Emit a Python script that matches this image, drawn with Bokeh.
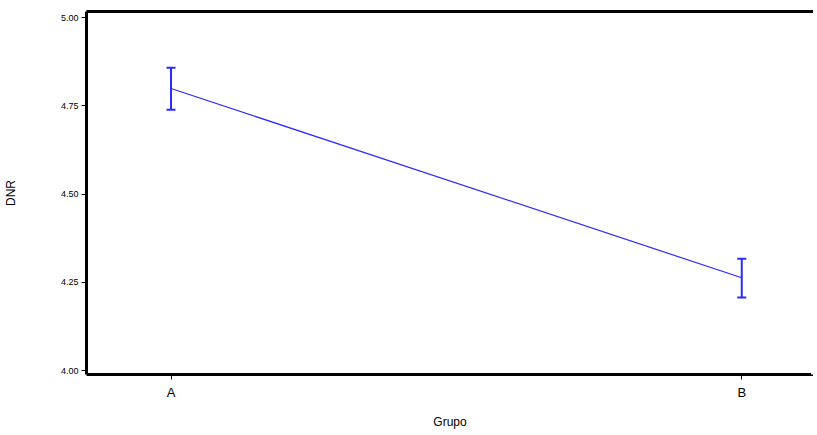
from bokeh.plotting import figure
from bokeh.models import ColumnDataSource, Whisker, FixedTicker, Range1d, TeeHead, NumeralTickFormatter
from bokeh.embed import file_html
from bokeh.resources import INLINE

groups = ["A", "B"]
means = [4.799, 4.263]
upper = [4.858, 4.317]
lower = [4.739, 4.207]
yticks = [4.00, 4.25, 4.50, 4.75, 5.00]

xpos = list(range(len(groups)))
src = ColumnDataSource(dict(x=xpos, m=means, u=upper, l=lower))

X0, X1 = -0.1481, 1.1257
Y0, Y1 = 3.989, 5.017
p = figure(width=813, height=435, output_backend="svg", toolbar_location=None,
           x_range=Range1d(X0, X1), y_range=Range1d(Y0, Y1),
           min_border_left=82, min_border_right=0, min_border_top=11, min_border_bottom=61)
p.outline_line_color = None
p.grid.visible = False
p.background_fill_color = "white"
p.border_fill_color = "white"

p.line("x", "m", source=src, line_color="#2b2bff", line_width=1.2)
w = Whisker(base="x", upper="u", lower="l", source=src, line_color="#2b2bff", line_width=2,
            upper_head=TeeHead(size=9, line_color="#2b2bff", line_width=2),
            lower_head=TeeHead(size=9, line_color="#2b2bff", line_width=2))
p.add_layout(w)

# hide right frame edge, then draw top frame line
p.vspan(x=[X1], line_color="white", line_width=5, level="overlay")
p.hspan(y=[Y1], line_color="black", line_width=3, level="overlay")

p.xaxis.ticker = FixedTicker(ticks=xpos)
p.xaxis.major_label_overrides = {i: g for i, g in enumerate(groups)}
p.yaxis.ticker = FixedTicker(ticks=yticks)
p.yaxis.formatter = NumeralTickFormatter(format="0.00")

for ax in (p.xaxis[0], p.yaxis[0]):
    ax.axis_line_width = 3
    ax.axis_line_color = "black"
    ax.major_tick_line_color = "black"
    ax.major_tick_line_width = 1
    ax.major_tick_in = 0
    ax.major_tick_out = 5
    ax.minor_tick_line_color = None
    ax.major_label_text_font = "Liberation Sans"
    ax.axis_label_text_font = "Liberation Sans"
    ax.axis_label_text_font_style = "normal"
    ax.axis_label_text_color = "black"
    ax.major_label_text_color = "black"

p.yaxis.major_label_text_font_size = "9px"
p.yaxis.major_label_standoff = 3
p.xaxis.major_label_text_font_size = "13px"
p.xaxis.major_label_standoff = 5
p.xaxis.axis_label = "Grupo"
p.xaxis.axis_label_text_font_size = "12px"
p.xaxis.axis_label_standoff = 12
p.yaxis.axis_label = "DNR"
p.yaxis.axis_label_text_font_size = "12px"
p.yaxis.axis_label_standoff = 40

open("out.html", "w").write(file_html(p, INLINE))
